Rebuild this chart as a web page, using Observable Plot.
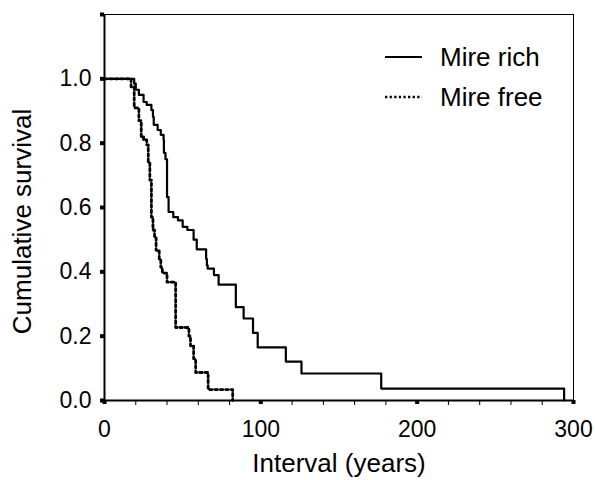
<!DOCTYPE html>
<html>
<head>
<meta charset="utf-8">
<script src="https://cdn.jsdelivr.net/npm/d3@7"></script>
<script src="https://cdn.jsdelivr.net/npm/@observablehq/plot@0.6"></script>
<style>
  html, body { margin: 0; padding: 0; background: #fff; }
  #chart svg { display: block; }
</style>
</head>
<body>
<div id="chart"></div>
<script>
// Kaplan–Meier step points: time (years) and cumulative survival from that time on
const richTime = [0, 19, 20, 22, 25, 27, 30, 31, 31.5, 34, 36, 37.8, 38, 39, 40, 41, 44, 47, 50, 53, 57, 59, 65, 65.5, 66, 70, 73, 84, 89, 95, 98, 116, 126, 177, 294];
const richSurv = [1.0, 0.985, 0.966, 0.95, 0.928, 0.919, 0.903, 0.882, 0.857, 0.841, 0.826, 0.81, 0.77, 0.75, 0.632, 0.586, 0.57, 0.56, 0.54, 0.53, 0.50, 0.47, 0.44, 0.42, 0.41, 0.39, 0.36, 0.29, 0.255, 0.21, 0.165, 0.121, 0.084, 0.037, 0];

const freeTime = [0, 17, 19, 22, 23.5, 25, 27, 28, 29, 30, 31, 32, 33, 35, 36, 37, 40, 45.5, 54, 55, 57, 58.3, 66.3, 82];
const freeSurv = [1.0, 0.975, 0.91, 0.87, 0.82, 0.81, 0.795, 0.74, 0.685, 0.57, 0.53, 0.508, 0.467, 0.436, 0.414, 0.396, 0.368, 0.227, 0.20, 0.17, 0.13, 0.087, 0.034, 0];

const seriesNames = ["Mire rich", "Mire free"];
const xMajorTicks = [0, 100, 200, 300];
const xMinorTicks = d3.range(0, 301, 20).filter(d => d % 100 !== 0);
const yTicks = [0, 0.2, 0.4, 0.6, 0.8, 1.0, 1.2];
const yLabel = "Cumulative survival";
const xLabel = "Interval (years)";

const rich = richTime.map((t, i) => ({t, s: richSurv[i]}));
const free = freeTime.map((t, i) => ({t, s: freeSurv[i]}));

const FONT = "'Liberation Sans', Arial, sans-serif";

function legendMark(index, scales, values, dims) {
  const g = d3.create("svg:g")
    .attr("font-family", FONT).attr("font-size", 26).attr("fill", "#000")
    .attr("text-anchor", "start");
  const x0 = dims.width - dims.marginRight - 188;
  const y0 = dims.marginTop + 43;
  const gap = 40;
  const styles = [{w: 2.2, dash: null}, {w: 2.5, dash: "2.3,2.3"}];
  seriesNames.forEach((name, i) => {
    const y = y0 + i * gap;
    g.append("line")
      .attr("x1", x0).attr("x2", x0 + 37).attr("y1", y).attr("y2", y)
      .attr("stroke", "#000").attr("stroke-width", styles[i].w)
      .attr("stroke-dasharray", styles[i].dash);
    g.append("text").attr("x", x0 + 55).attr("y", y).attr("dy", "0.36em").text(name);
  });
  return g.node();
}

const chart = Plot.plot({
  width: 595,
  height: 480,
  marginLeft: 104,
  marginRight: 22,
  marginTop: 14,
  marginBottom: 80,
  style: {fontFamily: FONT, background: "#fff", color: "#000"},
  x: {domain: [0, 300]},
  y: {domain: [0, 1.2]},
  marks: [
    Plot.frame({stroke: "#000", strokeWidth: 1}),
    Plot.axisY({
      ticks: yTicks,
      tickFormat: d => d > 1.1 ? "" : d3.format(".1f")(d),
      tickSize: 4, tickPadding: 9, strokeWidth: 4,
      fontSize: 23, label: null
    }),
    Plot.axisX({
      ticks: xMajorTicks, tickSize: 4, tickPadding: 16, strokeWidth: 4,
      fontSize: 23, label: null
    }),
    Plot.axisX({ticks: xMinorTicks, tickSize: 5, strokeWidth: 1, text: null, label: null}),
    Plot.ruleX([0], {stroke: "#000", strokeWidth: 2}),
    Plot.ruleY([0], {stroke: "#000", strokeWidth: 2}),
    Plot.line(rich, {x: "t", y: "s", curve: "step-after", stroke: "#000", strokeWidth: 2.2}),
    Plot.line(free, {x: "t", y: "s", curve: "step-after", stroke: "#000", strokeWidth: 2.8, strokeDasharray: "2.6,2.8"}),
    Plot.text([yLabel], {frameAnchor: "left", textAnchor: "middle", lineAnchor: "middle", text: d => d, rotate: -90, dx: -82, dy: 14, fontSize: 26}),
    Plot.text([xLabel], {frameAnchor: "bottom", textAnchor: "middle", lineAnchor: "middle", text: d => d, dy: 63, fontSize: 26})
  ].concat([legendMark])
});
document.getElementById("chart").append(chart);
</script>
</body>
</html>
